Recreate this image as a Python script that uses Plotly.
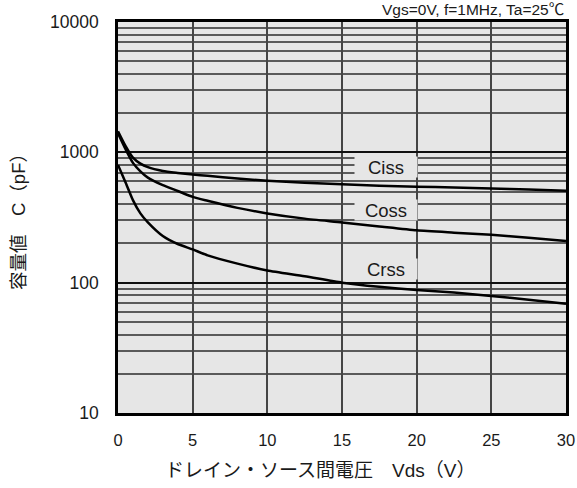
import plotly.graph_objects as go

vds = [0, 0.5, 1, 1.5, 2, 3, 4, 5, 6, 8, 10, 12.5, 15, 17.5, 20, 22.5, 25, 27.5, 30]
ciss = [1450, 1120, 910, 820, 770, 720, 695, 675, 660, 630, 605, 585, 570, 555, 545, 537, 529, 518, 507]
coss = [1400, 1060, 830, 715, 640, 560, 505, 455, 425, 375, 340, 310, 290, 270, 252, 242, 233, 221, 209]
crss = [800, 590, 430, 340, 290, 228, 198, 180, 162, 140, 124, 112, 100, 93, 88, 84, 79, 74, 69]

series = [("Ciss", ciss, 17.95, 2.885), ("Coss", coss, 17.95, 2.556), ("Crss", crss, 17.95, 2.102)]

x_ticks = [0, 5, 10, 15, 20, 25, 30]
y_major = [10, 100, 1000, 10000]
y_minor = [m * d for d in (10, 100, 1000) for m in range(2, 10)]

FONT = "Arial, 'Liberation Sans', 'Noto Sans CJK JP', sans-serif"
BG = "#e6e6e6"
TXT = "#1a1a1a"
L, R, T, B = 118, 11, 22, 75
W, H = 577, 488
pw, ph = W - L - R, H - T - B

fig = go.Figure()
for name, vals, lx, ly in series:
    fig.add_trace(go.Scatter(x=vds, y=vals, mode="lines", name=name,
                             line=dict(color="black", width=2.5, shape="spline", smoothing=0.6),
                             showlegend=False, hoverinfo="skip", cliponaxis=True))
    fig.add_annotation(x=lx, y=ly, xref="x", yref="y", text=name, showarrow=False,
                       font=dict(size=18.5, color=TXT, family=FONT),
                       bgcolor=BG, width=60, height=18)

fig.update_layout(
    width=W, height=H,
    margin=dict(l=L, r=R, t=T, b=B, autoexpand=False),
    paper_bgcolor="white", plot_bgcolor=BG,
    font=dict(family=FONT, size=16, color=TXT),
    showlegend=False,
)
fig.update_xaxes(range=[0, 30], tickvals=x_ticks, ticks="", ticklabelstandoff=10,
                 showgrid=True, gridcolor="#444", gridwidth=1.5, zeroline=False,
                 showline=True, linecolor="black", linewidth=2.5, mirror=True,
                 tickfont=dict(size=16.5), automargin=False)
fig.update_yaxes(type="log", range=[1, 4], tickvals=y_major, ticktext=[str(v) for v in y_major],
                 ticks="", ticklabelstandoff=13,
                 showgrid=True, gridcolor="#111", gridwidth=1.5, zeroline=False,
                 showline=True, linecolor="black", linewidth=2.5, mirror=True,
                 minor=dict(tickvals=y_minor, showgrid=True, gridcolor="#5a5a5a", gridwidth=1.5, ticks=""),
                 tickfont=dict(size=17.5), automargin=False)

fig.add_annotation(x=1.0, y=1.0, xref="paper", yref="paper", xanchor="right", yanchor="bottom",
                   yshift=2, text="Vgs=0V, f=1MHz, Ta=25℃", showarrow=False,
                   font=dict(size=15.5, color=TXT, family=FONT))
fig.add_annotation(x=(320 - L) / pw, y=(H - B - 470) / ph, xref="paper", yref="paper",
                   xanchor="center", yanchor="middle",
                   text="ドレイン・ソース間電圧　Vds（V）",
                   showarrow=False, font=dict(size=19, color=TXT, family=FONT))
fig.add_annotation(x=(18 - L) / pw, y=(H - B - 217) / ph, xref="paper", yref="paper",
                   xanchor="center", yanchor="middle",
                   text="容量値　C（pF）", showarrow=False, textangle=-90,
                   font=dict(size=18.5, color=TXT, family=FONT))

fig.write_html("out.html", config={"displayModeBar": False},
               post_script="document.body.style.margin='0';document.body.style.padding='0';")
